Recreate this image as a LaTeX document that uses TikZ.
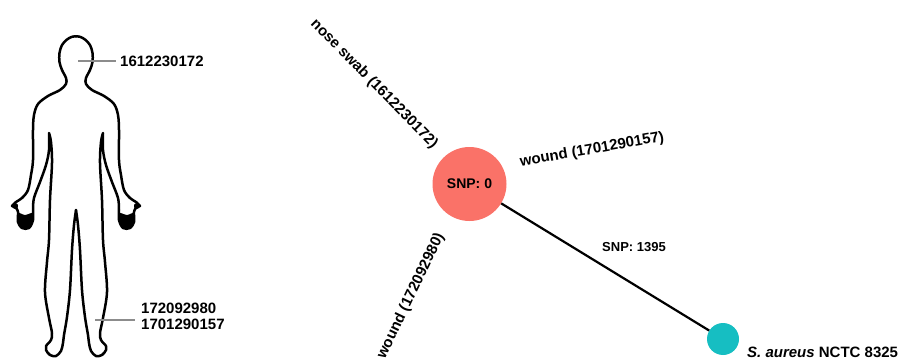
\documentclass[tikz,border=0pt]{standalone}
\usepackage{fontspec}
\setmainfont{Liberation Sans}
\definecolor{isored}{RGB}{250,114,104}
\definecolor{refteal}{RGB}{22,190,194}
\definecolor{pointergray}{RGB}{140,140,140}
\begin{document}
\begin{tikzpicture}[x=1pt,y=-1pt,
  body/.style={line width=2.5pt, line join=round, line cap=round},
  lbl/.style={font=\fontsize{15}{16}\selectfont\bfseries, inner sep=0pt},
  smalllbl/.style={font=\fontsize{13}{15}\selectfont\bfseries, inner sep=0pt},
  pointer/.style={draw=pointergray, line width=1.3pt},
  treeedge/.style={draw=black, line width=2.2pt},
  isolate/.style={circle, fill=isored, inner sep=0pt, minimum size=74pt,
    font=\fontsize{14}{16}\selectfont\bfseries},
  reference/.style={circle, fill=refteal, inner sep=0pt, minimum size=32pt}]
\useasboundingbox (0,0) rectangle (900,361);

% ---- body outline: left half, mirrored about x = 76 for the right half ----
\foreach \s in {1,-1}{
  \begin{scope}[shift={({76*(1-\s)},0)}, xscale=\s]
    \draw[body]
      plot[smooth, tension=0.55] coordinates {
        (76,210) (74,225) (72,250) (70,290) (67,317) (64,335) (63,343)
        (61,351) (56,356) (50,355) (46,350) (46,346) (51,340) (52,333)
        (49,318) (45,292) (47,262) (49,240) (50,200) (52,163) (51,142) (49,133)}
      -- plot[smooth, tension=0.55] coordinates {
        (49,133) (49,150) (46,165) (40,182) (34,198) (33,210) (33,220)
        (29,228) (22,228) (18,222) (18,212) (16,208) (12,206)}
      -- plot[smooth, tension=0.55] coordinates {
        (12,206) (16,202) (22,198) (28,190) (31,175) (33,160) (33,130)
        (34,115) (38,104) (48,96) (60,90) (66,84) (66,78) (62,70)
        (59.5,62) (59.5,53) (62,45) (67,39.5) (72,36.8) (76,36.3)};
    % fingers and thumb tip
    \fill plot[smooth cycle, tension=0.5] coordinates {
      (18,213) (25,215) (33,213) (33,221) (29,228) (22,228) (18,222)};
    \fill plot[smooth cycle, tension=0.5] coordinates {
      (12,206) (15,203) (18,205) (17,209) (13,208)};
  \end{scope}
}

% ---- sampling sites ----
\coordinate (headpt) at (78,61);
\node[lbl, anchor=west] (nosesite) at (120,61) {1612230172};
\draw[pointer] (headpt) -- ([xshift=-4pt]nosesite.west);

\coordinate (legpt) at (95,320);
\node[lbl, anchor=west, align=left] (woundsite) at (141,316) {172092980\\1701290157};
\draw[pointer] (legpt) -- ([xshift=-6pt]legpt -| woundsite.west);

% ---- SNP tree ----
\node[isolate] (iso) at (469.5,184) {SNP: 0};
\node[reference] (ref) at (723,339) {};
\draw[treeedge] (iso) -- (ref);
\node[smalllbl] (snpdist) at (634,247) {SNP: 1395};

\node[lbl, rotate=-45.5] (nose) at (374,84) {nose swab (1612230172)};
\node[lbl, rotate=10] (woundA) at (592,150) {wound (1701290157)};
\node[lbl, rotate=64.5] (woundB) at (411,296) {wound (172092980)};
\node[lbl, anchor=west] (refname) at (747,352) {\textit{S. aureus} NCTC 8325};
\end{tikzpicture}
\end{document}
